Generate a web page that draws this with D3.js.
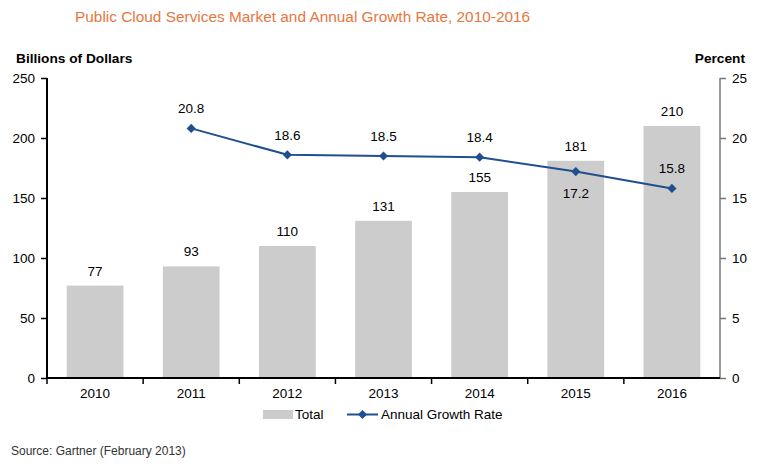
<!DOCTYPE html>
<html><head><meta charset="utf-8">
<script src="https://cdn.jsdelivr.net/npm/d3@7"></script>
<style>body{margin:0;background:#fff}svg{display:block;font-family:"Liberation Sans",Arial,sans-serif}</style>
</head><body><svg id="c" width="762" height="465"></svg>
<script>
const years = ["2010","2011","2012","2013","2014","2015","2016"];
const totals = [77, 93, 110, 131, 155, 181, 210];
const rateYears = ["2011","2012","2013","2014","2015","2016"];
const rates = [20.8, 18.6, 18.5, 18.4, 17.2, 15.8];
const leftTicks = [0, 50, 100, 150, 200, 250];
const rightTicks = [0, 5, 10, 15, 20, 25];

const svg = d3.select("#c");
const x0 = 47, x1 = 720, yTop = 78, yBot = 378;
const x = d3.scaleBand().domain(years).range([x0, x1]).paddingInner(0.41).paddingOuter(0.205);
const xc = d3.scalePoint().domain(years).range([x0 + (x1-x0)/14, x1 - (x1-x0)/14]);
const yL = d3.scaleLinear().domain([0, 250]).range([yBot, yTop]);
const yR = d3.scaleLinear().domain([0, 25]).range([yBot, yTop]);
const fs = 13.5;

svg.append("text").attr("x", 75).attr("y", 22).attr("fill", "#e8763e").attr("font-size", 15.4)
  .text("Public Cloud Services Market and Annual Growth Rate, 2010-2016");
svg.append("text").attr("x", 16).attr("y", 63).attr("font-weight", "bold").attr("font-size", 13.7).text("Billions of Dollars");
svg.append("text").attr("x", 745).attr("y", 63).attr("text-anchor", "end").attr("font-weight", "bold").attr("font-size", 13.7).text("Percent");

// bars
svg.selectAll("rect.bar").data(years).join("rect").attr("class", "bar")
  .attr("x", d => x(d)).attr("width", x.bandwidth())
  .attr("y", (d, i) => yL(totals[i])).attr("height", (d, i) => yBot - yL(totals[i]))
  .attr("fill", "#cccccc");
svg.selectAll("text.bl").data(years).join("text").attr("class", "bl")
  .attr("x", d => xc(d)).attr("y", (d, i) => yL(totals[i]) - 10)
  .attr("text-anchor", "middle").attr("font-size", fs).text((d, i) => totals[i]);

// axes
const gL = svg.append("g").attr("transform", `translate(${x0},0)`)
  .call(d3.axisLeft(yL).tickValues(leftTicks).tickSize(6).tickPadding(6));
gL.select(".domain").attr("stroke", "#000").attr("stroke-width", 2).attr("d", `M0,${yTop}V${yBot}`);
gL.selectAll(".tick line").attr("stroke", "#000").attr("stroke-width", 1.5);
gL.selectAll("text").attr("font-size", fs).attr("fill", "#000").attr("font-family", "Liberation Sans, Arial, sans-serif");

const gR = svg.append("g").attr("transform", `translate(${x1},0)`)
  .call(d3.axisRight(yR).tickValues(rightTicks).tickSize(6).tickPadding(6));
gR.select(".domain").attr("stroke", "#777").attr("stroke-width", 1.5).attr("d", `M0,${yTop}V${yBot}`);
gR.selectAll(".tick line").attr("stroke", "#777").attr("stroke-width", 1.5);
gR.selectAll("text").attr("font-size", fs).attr("fill", "#000").attr("font-family", "Liberation Sans, Arial, sans-serif");

const gB = svg.append("g").attr("transform", `translate(0,${yBot})`)
  .call(d3.axisBottom(x).tickSize(0).tickPadding(10));
gB.select(".domain").attr("stroke", "#000").attr("stroke-width", 2).attr("d", `M${x0},0H${x1}`);
gB.selectAll("text").attr("font-size", fs).attr("fill", "#000").attr("font-family", "Liberation Sans, Arial, sans-serif");
const bounds = d3.range(years.length + 1).map(i => x0 + i * (x1 - x0) / years.length);
svg.selectAll("line.xt").data(bounds.slice(0, -1)).join("line").attr("class", "xt")
  .attr("x1", d => d).attr("x2", d => d).attr("y1", yBot).attr("y2", yBot + 6)
  .attr("stroke", "#000").attr("stroke-width", 1.5);

// line
const blue = "#1f4f8f";
const line = d3.line().x((d, i) => xc(rateYears[i])).y(d => yR(d));
svg.append("path").datum(rates).attr("d", line).attr("fill", "none").attr("stroke", blue).attr("stroke-width", 2);
const diamond = d3.symbol().type(d3.symbolSquare).size(42);
svg.selectAll("path.pt").data(rates).join("path").attr("class", "pt")
  .attr("transform", (d, i) => `translate(${xc(rateYears[i])},${yR(d)}) rotate(45)`)
  .attr("d", diamond).attr("fill", blue);
svg.selectAll("text.rl").data(rates).join("text").attr("class", "rl")
  .attr("x", (d, i) => xc(rateYears[i]))
  .attr("y", (d, i) => rateYears[i] === "2015" ? yR(d) + 26 : yR(d) - 15)
  .attr("text-anchor", "middle").attr("font-size", fs).text(d => d.toFixed(1));

// legend
svg.append("rect").attr("x", 263).attr("y", 410).attr("width", 30).attr("height", 9).attr("fill", "#cccccc");
svg.append("text").attr("x", 295).attr("y", 419).attr("font-size", fs).text("Total");
svg.append("line").attr("x1", 347).attr("x2", 378).attr("y1", 414.5).attr("y2", 414.5).attr("stroke", blue).attr("stroke-width", 2);
svg.append("path").attr("transform", "translate(362.5,414.5) rotate(45)").attr("d", diamond).attr("fill", blue);
svg.append("text").attr("x", 381).attr("y", 419).attr("font-size", fs).text("Annual Growth Rate");

svg.append("text").attr("x", 11).attr("y", 455).attr("font-size", 12).attr("fill", "#333").text("Source: Gartner (February 2013)");
</script></body></html>
